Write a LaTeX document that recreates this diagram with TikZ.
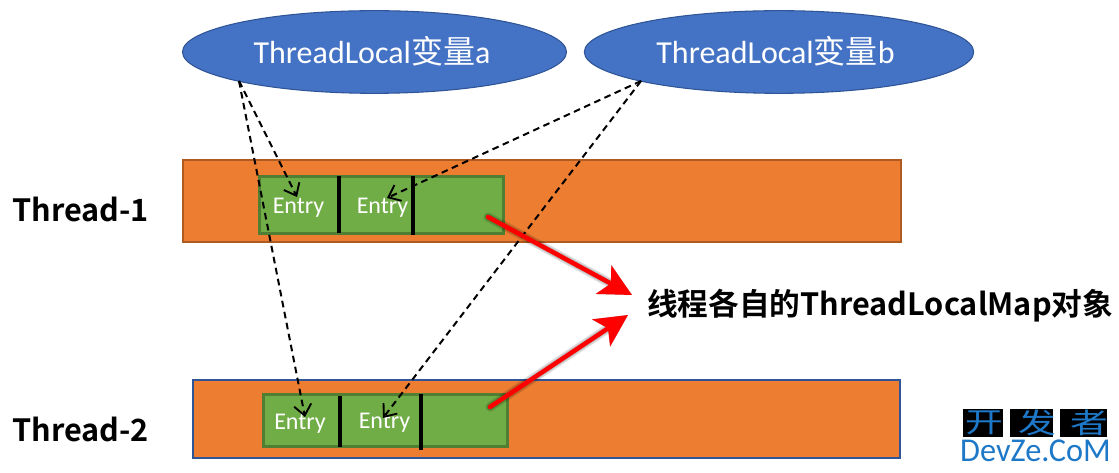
\documentclass[tikz,border=0pt]{standalone}
\usepackage{fontspec}
\setmainfont{Carlito}
\newfontfamily\cjk{Noto Sans CJK SC}
\newfontfamily\boldf[BoldFont=* Bold]{Noto Sans CJK SC}
\usetikzlibrary{arrows.meta,shapes.geometric,calc}
\definecolor{blueE}{HTML}{4472C4}
\definecolor{blueB}{HTML}{2F5597}
\definecolor{orangeF}{HTML}{ED7D31}
\definecolor{orangeB}{HTML}{AE5A21}
\definecolor{greenF}{HTML}{70AD47}
\definecolor{greenB}{HTML}{507E32}
\definecolor{markblue}{HTML}{1E78C8}
\tikzset{
  x=0.75pt,y=-0.75pt,
  varell/.style={ellipse,draw=blueB,line width=0.8pt,fill=blueE,inner sep=0pt,minimum width=288pt,minimum height=62pt},
  elltxt/.style={text=white,inner sep=0pt,font=\fontsize{24}{26}\selectfont},
  threadbar/.style={rectangle,fill=orangeF,inner sep=0pt,line width=1.1pt},
  mapbox/.style={rectangle,fill=greenF,draw=greenB,line width=2.4pt,inner sep=0pt},
  divider/.style={line width=2.6pt,black},
  entrytxt/.style={text=white,font=\fontsize{18}{20}\selectfont,inner sep=0pt},
  threadtxt/.style={font=\boldf\bfseries\fontsize{23}{26}\selectfont,inner sep=0pt,anchor=west},
  refline/.style={dashed,dash pattern=on 5pt off 3.4pt,line width=1.5pt,-{Straight Barb[length=8pt,width=13pt,line width=1.4pt]}},
  redarrow/.style={red,line width=3.4pt,line cap=round,-{Stealth[length=24pt,width=24pt,inset=6pt]}},
  shadowarrow/.style={line width=#1,line cap=round,black,opacity=0.13,-{Stealth[length=24pt,width=24pt,inset=6pt]}},
  markband/.style={rectangle,fill=black,inner sep=0pt,minimum height=21pt},
  markchar/.style={inner sep=0pt,text=markblue,font=\cjk\fontsize{21}{23}\selectfont,xscale=1.35},
}
\begin{document}
\begin{tikzpicture}
\useasboundingbox (0,0) rectangle (1119,473);
% ellipses
\node[varell] (ea) at (374.5,52) {};
\node[varell,minimum width=292pt] (eb) at (779,52) {};
\node[elltxt] (ta) at (372,51) {ThreadLocal{\cjk 变量}a};
\node[elltxt] (tb) at (775.5,51) {ThreadLocal{\cjk 变量}b};
% thread bars
\node[threadbar,draw=orangeB,minimum width=538.5pt,minimum height=61.5pt] (t1) at (542,201) {};
\node[threadbar,draw=blueB,minimum width=530pt,minimum height=58.5pt] (t2) at (546.5,419) {};
% maps
\node[mapbox,minimum width=183pt,minimum height=43pt] (m1) at (381.5,205) {};
\node[mapbox,minimum width=183pt,minimum height=39.5pt] (m2) at (385.5,420.5) {};
% dividers
\coordinate (d1t) at (339,176); \coordinate (d1b) at (339,233);
\coordinate (d2t) at (413,176); \coordinate (d2b) at (413,235);
\coordinate (d3t) at (340,396); \coordinate (d3b) at (340,447);
\coordinate (d4t) at (421,394); \coordinate (d4b) at (421,450);
\draw[divider] (d1t) -- (d1b);
\draw[divider] (d2t) -- (d2b);
\draw[divider] (d3t) -- (d3b);
\draw[divider] (d4t) -- (d4b);
% entries
\node[entrytxt] (e11) at (298.5,208) {Entry};
\node[entrytxt] (e12) at (382.5,208) {Entry};
\node[entrytxt] (e21) at (300,424) {Entry};
\node[entrytxt] (e22) at (384.5,423) {Entry};
% labels
\node[threadtxt] (l1) at (12,209) {Thread-1};
\node[threadtxt] (l2) at (12,429) {Thread-2};
\node[threadtxt] (obj) at (647,306) {线程各自的ThreadLocalMap对象};
% dashed references
\coordinate (ao) at (239,81);
\coordinate (bo) at (641,81);
\coordinate (a1) at (297,197);
\coordinate (a2) at (305,417);
\coordinate (b1) at (387,198);
\coordinate (b2) at (383,418);
\draw[refline] (ao) -- (a1);
\draw[refline] (ao) -- (a2);
\draw[refline] (bo) -- (b1);
\draw[refline] (bo) -- (b2);
% red arrows with soft shadow
\coordinate (r1s) at (488,217);
\coordinate (r1e) at (632,295);
\coordinate (r2s) at (490,407);
\coordinate (r2e) at (628,315);
\foreach \w in {3pt,5pt,7pt}{
  \begin{scope}[shift={(3,4)}]
  \draw[shadowarrow=\w] (r1s) -- (r1e);
  \draw[shadowarrow=\w] (r2s) -- (r2e);
  \end{scope}
}
\draw[redarrow] (r1s) -- (r1e);
\draw[redarrow] (r2s) -- (r2e);
% watermark
\node[markband,minimum width=30pt] (wb1) at (983,423) {};
\node[markband,minimum width=32pt] (wb2) at (1031.5,423) {};
\node[markband,minimum width=35pt] (wb3) at (1083.5,423) {};
\node[markchar] (wm1) at (984,423) {开};
\node[markchar] (wm2) at (1037,423) {发};
\node[markchar] (wm3) at (1089,423) {者};
\node[inner sep=0pt,text=markblue,font=\fontsize{25}{27}\selectfont,xscale=0.97] (wm4) at (1035.5,451) {DevZe.CoM};
\end{tikzpicture}
\end{document}
